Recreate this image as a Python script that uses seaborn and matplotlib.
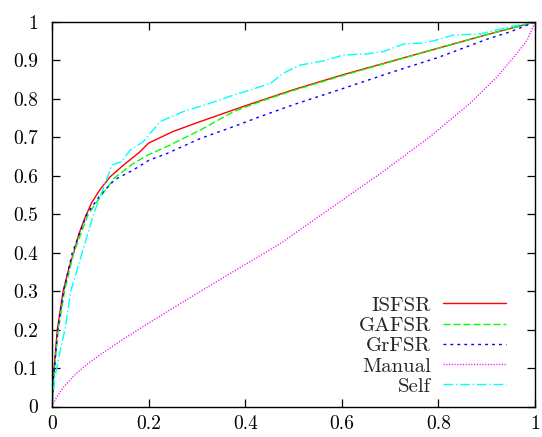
import matplotlib
matplotlib.use("Agg")
import matplotlib.pyplot as plt
import numpy as np
import pandas as pd
import seaborn as sns

# ROC-style curves for the five methods
isfsr_x = [0, 0.002, 0.005, 0.011, 0.023, 0.035, 0.045, 0.056, 0.068, 0.082, 0.1, 0.12,
           0.15, 0.18, 0.2, 0.25, 0.3, 0.4, 0.5, 0.6, 0.7, 0.8, 0.9, 1.0]
isfsr_y = [0, 0.06, 0.11, 0.2, 0.3, 0.36, 0.4, 0.45, 0.49, 0.53, 0.565, 0.597,
           0.63, 0.66, 0.685, 0.715, 0.738, 0.782, 0.824, 0.862, 0.897, 0.932, 0.967, 1.0]

gafsr_x = [0, 0.003, 0.007, 0.013, 0.026, 0.045, 0.075, 0.1, 0.13, 0.168, 0.2, 0.238,
           0.307, 0.376, 0.431, 0.5, 0.6, 0.7, 0.8, 0.9, 1.0]
gafsr_y = [0, 0.06, 0.12, 0.2, 0.3, 0.4, 0.5, 0.545, 0.595, 0.632, 0.655, 0.676,
           0.719, 0.767, 0.793, 0.822, 0.86, 0.896, 0.932, 0.967, 1.0]

grfsr_x = [0, 0.003, 0.007, 0.012, 0.024, 0.042, 0.072, 0.1, 0.13, 0.168, 0.2, 0.238,
           0.307, 0.376, 0.431, 0.5, 0.6, 0.7, 0.8, 0.9, 0.95, 1.0]
grfsr_y = [0, 0.07, 0.13, 0.2, 0.3, 0.4, 0.5, 0.55, 0.59, 0.615, 0.64, 0.658,
           0.697, 0.728, 0.754, 0.785, 0.826, 0.868, 0.908, 0.955, 0.975, 1.0]

manual_x = [0, 0.01, 0.025, 0.05, 0.075, 0.1, 0.15, 0.2, 0.3, 0.369, 0.473, 0.576,
            0.68, 0.783, 0.866, 0.922, 0.963, 0.984, 1.0]
manual_y = [0, 0.025, 0.052, 0.086, 0.112, 0.135, 0.177, 0.217, 0.294, 0.346, 0.424,
            0.515, 0.606, 0.702, 0.789, 0.858, 0.919, 0.953, 1.0]

self_x = [0, 0.003, 0.006, 0.01, 0.017, 0.027, 0.039, 0.048, 0.062, 0.086, 0.116,
          0.124, 0.144, 0.162, 0.189, 0.224, 0.272, 0.328, 0.376, 0.41, 0.452, 0.479,
          0.514, 0.562, 0.603, 0.652, 0.686, 0.728, 0.763, 0.79, 0.831, 0.887, 0.949, 1.0]
self_y = [0, 0.04, 0.078, 0.1, 0.147, 0.2, 0.3, 0.338, 0.398, 0.5, 0.6,
          0.628, 0.637, 0.667, 0.689, 0.741, 0.767, 0.789, 0.81, 0.823, 0.84, 0.867,
          0.888, 0.899, 0.914, 0.917, 0.923, 0.943, 0.945, 0.951, 0.966, 0.969, 0.988, 1.0]

methods = ["ISFSR", "GAFSR", "GrFSR", "Manual", "Self"]
xtick_values = [0, 0.2, 0.4, 0.6, 0.8, 1]
xtick_labels = ["0", "0.2", "0.4", "0.6", "0.8", "1"]
ytick_values = [0, 0.1, 0.2, 0.3, 0.4, 0.5, 0.6, 0.7, 0.8, 0.9, 1]
ytick_labels = ["0", "0.1", "0.2", "0.3", "0.4", "0.5", "0.6", "0.7", "0.8", "0.9", "1"]

series = {
    "ISFSR": (isfsr_x, isfsr_y),
    "GAFSR": (gafsr_x, gafsr_y),
    "GrFSR": (grfsr_x, grfsr_y),
    "Manual": (manual_x, manual_y),
    "Self": (self_x, self_y),
}
frames = []
for name in methods:
    xs, ys = series[name]
    frames.append(pd.DataFrame({"fpr": xs, "tpr": ys, "method": name}))
df = pd.concat(frames, ignore_index=True)

sns.set_theme(style="ticks")
plt.rcParams["font.family"] = ["cmr10", "DejaVu Serif"]
plt.rcParams["axes.formatter.use_mathtext"] = True

palette = {"ISFSR": "#ff0000", "GAFSR": "#00ff00", "GrFSR": "#0000ff",
           "Manual": "#ff00ff", "Self": "#00ffff"}
dashes = {"ISFSR": "", "GAFSR": (5, 2.2), "GrFSR": (2, 3),
          "Manual": (0.8, 1.2), "Self": (7, 2, 1, 2)}

fig = plt.figure(figsize=(5.42, 4.37), dpi=100)
ax = fig.add_axes([52 / 542, 30.5 / 437, 483 / 542, 384.5 / 437])

sns.lineplot(data=df, x="fpr", y="tpr", hue="method", style="method",
             hue_order=methods, style_order=methods, palette=palette,
             dashes=dashes, estimator=None, sort=False, linewidth=1.0, ax=ax)

ax.set_xlim(0, 1)
ax.set_ylim(0, 1)
ax.set_xticks(xtick_values)
ax.set_xticklabels(xtick_labels)
ax.set_yticks(ytick_values)
ax.set_yticklabels(ytick_labels)
ax.set_xlabel("")
ax.set_ylabel("")
for s in ax.spines.values():
    s.set_visible(True)
    s.set_linewidth(1.0)
    s.set_color("black")
ax.tick_params(direction="in", length=6, width=0.9, top=True, right=True,
               labelsize=14, colors="black")
ax.tick_params(axis="y", pad=10)
ax.tick_params(axis="x", pad=6)

leg = ax.legend(loc="lower right", bbox_to_anchor=(0.97, -0.01), frameon=False,
                markerfirst=False, fontsize=15, handlelength=3.0,
                handletextpad=0.6, labelspacing=0.08, borderaxespad=0.3)

fig.savefig("out.png", dpi=100)
